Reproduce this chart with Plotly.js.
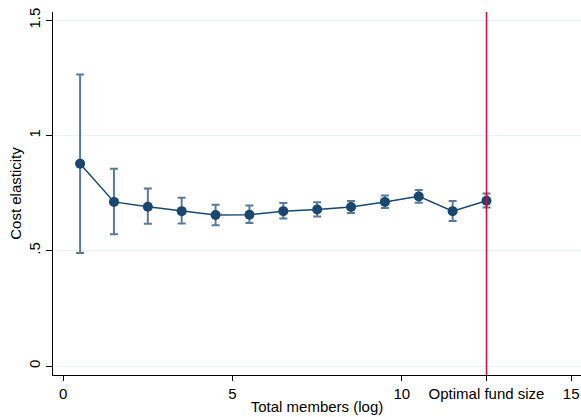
<!DOCTYPE html>
<html>
<head>
<meta charset="utf-8">
<script src="https://cdn.plot.ly/plotly-3.0.1.min.js"></script>
<style>html,body{margin:0;padding:0;background:#fff;}#chart{width:581px;height:417px;}</style>
</head>
<body>
<div id="chart"></div>
<script>
// Data
const totalMembersLog = [0.5, 1.5, 2.5, 3.5, 4.5, 5.5, 6.5, 7.5, 8.5, 9.5, 10.5, 11.5, 12.5];
const costElasticity  = [0.878, 0.712, 0.691, 0.672, 0.655, 0.656, 0.672, 0.679, 0.690, 0.712, 0.736, 0.672, 0.717];
const ciUpper         = [1.265, 0.856, 0.770, 0.730, 0.700, 0.696, 0.707, 0.710, 0.716, 0.740, 0.764, 0.716, 0.748];
const ciLower         = [0.490, 0.572, 0.617, 0.618, 0.611, 0.621, 0.640, 0.649, 0.664, 0.686, 0.708, 0.629, 0.688];
const optimalFundSize = 12.5;
const xTickVals  = [0, 5, 10, 12.5, 15];
const xTickText  = ["0", "5", "10", "Optimal fund size", "15"];
const yTickVals  = [0, 0.5, 1, 1.5];
const yTickText  = ["0", ".5", "1", "1.5"];

const errPlus  = ciUpper.map((u, i) => u - costElasticity[i]);
const errMinus = ciLower.map((l, i) => costElasticity[i] - l);

const FONT = "Liberation Sans, Arial, Helvetica, sans-serif";

const traces = [{
  type: "scatter",
  mode: "lines+markers",
  x: totalMembersLog,
  y: costElasticity,
  line: {color: "#1a476f", width: 1.5},
  marker: {color: "#1a476f", size: 10},
  error_y: {
    type: "data",
    symmetric: false,
    array: errPlus,
    arrayminus: errMinus,
    color: "#587a9b",
    thickness: 2,
    width: 4
  },
  hoverinfo: "skip",
  showlegend: false
}];

const layout = {
  width: 581,
  height: 417,
  margin: {l: 53, r: 0, t: 12, b: 42},
  paper_bgcolor: "#ffffff",
  plot_bgcolor: "#ffffff",
  font: {family: FONT, size: 15, color: "#000"},
  showlegend: false,
  xaxis: {
    range: [-0.30, 15.29],
    tickmode: "array",
    tickvals: xTickVals,
    ticktext: xTickText,
    ticks: "outside",
    ticklen: 5,
    tickwidth: 1,
    tickcolor: "#000",
    showgrid: false,
    zeroline: false,
    showline: true,
    linecolor: "#000",
    linewidth: 1.2,
    tickfont: {family: FONT, size: 15, color: "#000"},
    title: {text: "Total members (log)", font: {family: FONT, size: 15, color: "#000"}, standoff: 0}
  },
  yaxis: {
    range: [-0.039, 1.536],
    tickmode: "array",
    tickvals: yTickVals,
    ticktext: yTickText,
    tickangle: -90,
    ticks: "outside",
    ticklen: 6,
    tickwidth: 1,
    tickcolor: "#000",
    showgrid: true,
    gridcolor: "#eaf2f3",
    gridwidth: 1,
    zeroline: false,
    showline: true,
    linecolor: "#000",
    linewidth: 1.2,
    tickfont: {family: FONT, size: 15, color: "#000"},
    title: {text: "Cost elasticity", font: {family: FONT, size: 15, color: "#000"}, standoff: 0}
  },
  shapes: [{
    type: "line",
    xref: "x", yref: "paper",
    x0: optimalFundSize, x1: optimalFundSize,
    y0: 0, y1: 1,
    line: {color: "#d10a3c", width: 1.5},
    layer: "above"
  }]
};

Plotly.newPlot("chart", traces, layout, {displayModeBar: false, staticPlot: true});
</script>
</body>
</html>
